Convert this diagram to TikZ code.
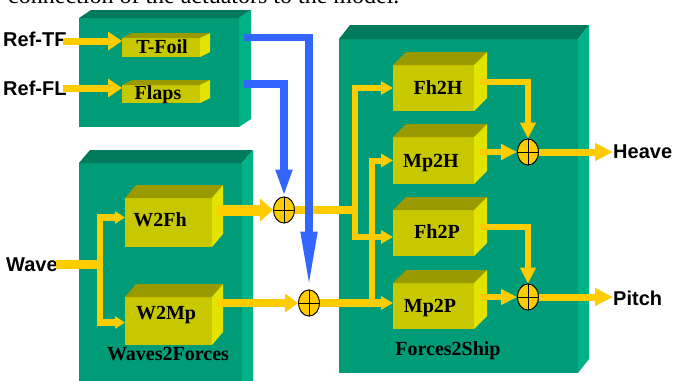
\documentclass[tikz,border=0pt]{standalone}
\usepackage{fontspec}
\setmainfont{Liberation Serif}
\newfontfamily\arialf{Liberation Sans}
\usetikzlibrary{arrows.meta,calc,shapes.geometric}
\definecolor{gfront}{HTML}{009B77}
\definecolor{gtop}{HTML}{007A5C}
\definecolor{gside}{HTML}{00B386}
\definecolor{yfront}{HTML}{C8C800}
\definecolor{ytop}{HTML}{999900}
\definecolor{yside}{HTML}{E3E300}
\definecolor{ycol}{HTML}{FFCC00}
\definecolor{bcol}{HTML}{3366FF}
\newcommand\cubefaces[5]{%
  \fill[#4] (#1.north west) -- ++(#2,-#3) -- ($(#1.north east)+(#2,-#3)$) -- (#1.north east) -- cycle;
  \fill[#5] (#1.north east) -- ++(#2,-#3) -- ($(#1.south east)+(#2,-#3)$) -- (#1.south east) -- cycle;}
\newcommand\sumcross[1]{\draw[line width=0.8pt] (#1.north) -- (#1.south) (#1.west) -- (#1.east);}
\begin{document}
\begin{tikzpicture}[x=1pt,y=-1pt,
  frontface/.style={inner sep=0, outer sep=0, anchor=north west, draw=none},
  bigfront/.style={frontface, fill=gfront},
  blockfront/.style={frontface, fill=yfront},
  yl/.style={draw=ycol, line width=6pt},
  ya/.style={yl, line width=7pt, -{Triangle[length=14pt,width=18pt]}},
  yb/.style={yl, line width=6pt, -{Triangle[length=12pt,width=13pt]}},
  yc/.style={yl, line width=6pt, -{Triangle[length=16pt,width=15pt]}},
  bl/.style={draw=bcol, line width=7.5pt},
  sumnode/.style={ellipse, draw=black, line width=0.8pt, fill=ycol, minimum width=21pt, minimum height=26pt, inner sep=0},
  sans/.style={font=\arialf\bfseries\fontsize{20}{24}\selectfont, inner sep=0, anchor=base west},
  blab/.style={font=\bfseries\fontsize{20}{24}\selectfont, inner sep=0, anchor=base}]
\clip (0,0) rectangle (674,380);
\useasboundingbox (0,0) rectangle (674,380);

% caption line (cut at top)
\node[anchor=base west, inner sep=0, font=\fontsize{24}{28}\selectfont] (cap) at (8,4) {connection of the actuators to the model.};

% big boxes
\node[bigfront, minimum width=160pt, minimum height=109pt] (act) at (79,18) {};
\cubefaces{act}{12}{8}{gtop}{gside}
\node[bigfront, minimum width=163pt, minimum height=240pt] (w2f) at (79,163) {};
\cubefaces{w2f}{11}{13}{gtop}{gside}
\node[bigfront, minimum width=239pt, minimum height=334pt] (f2s) at (339,39) {};
\cubefaces{f2s}{11}{14}{gtop}{gside}

% blocks
\node[blockfront, minimum width=78pt, minimum height=19pt] (tfoil) at (122,38) {};
\cubefaces{tfoil}{10}{5}{ytop}{yside}
\node[blockfront, minimum width=78pt, minimum height=18pt] (flaps) at (122,85) {};
\cubefaces{flaps}{10}{5}{ytop}{yside}
\node[blockfront, minimum width=87pt, minimum height=49pt] (w2fh) at (125,198) {};
\cubefaces{w2fh}{11}{13}{ytop}{yside}
\node[blockfront, minimum width=87pt, minimum height=48pt] (w2mp) at (125,297) {};
\cubefaces{w2mp}{11}{13}{ytop}{yside}
\node[blockfront, minimum width=81pt, minimum height=46pt] (fh2h) at (393,65) {};
\cubefaces{fh2h}{13}{13}{ytop}{yside}
\node[blockfront, minimum width=81pt, minimum height=47pt] (mp2h) at (393,137) {};
\cubefaces{mp2h}{13}{13}{ytop}{yside}
\node[blockfront, minimum width=81pt, minimum height=46pt] (fh2p) at (393,210) {};
\cubefaces{fh2p}{13}{13}{ytop}{yside}
\node[blockfront, minimum width=81pt, minimum height=46pt] (mp2p) at (393,283) {};
\cubefaces{mp2p}{13}{13}{ytop}{yside}

% block labels
\node[blab] (ltfoil) at (162,53) {T-Foil};
\node[blab] (lflaps) at (158,99) {Flaps};
\node[blab] (lw2fh) at (160,226) {W2Fh};
\node[blab] (lw2mp) at (166,319) {W2Mp};
\node[blab] (lw2f) at (168,360) {Waves2Forces};
\node[blab] (lfh2h) at (438,94) {Fh2H};
\node[blab] (lmp2h) at (431,167) {Mp2H};
\node[blab] (lfh2p) at (437,238) {Fh2P};
\node[blab] (lmp2p) at (430,312) {Mp2P};
\node[blab] (lf2s) at (448,355) {Forces2Ship};

% outer labels
\node[sans] (reftf) at (3,46) {Ref-TF};
\node[sans] (reffl) at (3,95) {Ref-FL};
\node[sans] (wave) at (6,271) {Wave};
\node[sans] (heave) at (613,158) {Heave};
\node[sans] (pitch) at (613,305) {Pitch};

% sum nodes
\node[sumnode] (s1) at (284,210) {};
\node[sumnode] (s2) at (309,303) {};
\node[sumnode] (s3) at (528,152) {};
\node[sumnode] (s4) at (528,297) {};

% yellow connectors
\coordinate (tfin) at ($(tfoil.west)+(0,-6.5)$);
\coordinate (flin) at ($(flaps.west)+(0,-6)$);
\draw[ya] ($(reftf.east |- tfin)+(-4,0)$) -- (tfin);
\draw[ya] ($(reffl.east |- flin)+(-4,0)$) -- (flin);

\coordinate (wj) at (100,264);
\draw[yl, line width=9pt] ($(wave.east |- wj)+(-2,0)$) -- (wj);
\draw[yl, line width=6.5pt, -{Triangle[length=10pt,width=12pt]}] (wj) |- ($(w2fh.west)+(0,-5)$);
\draw[yl, line width=6.5pt, -{Triangle[length=10pt,width=12pt]}] (wj) |- ($(w2mp.west)+(0,1.5)$);

\draw[yl, line width=11pt, -{Triangle[length=13pt,width=22pt]}] ($(w2fh.east |- s1.west)+(5,0)$) -- (s1.west);
\draw[yl, line width=7.5pt, -{Triangle[length=13pt,width=18pt]}] ($(w2mp.east |- s2.west)+(5,0)$) -- (s2.west);

\coordinate (j1) at (355,210);
\coordinate (j2) at (372,303);
\draw[yl, line width=8pt] (s1.east) -- (j1);
\draw[yb] (j1) |- (fh2h.west);
\draw[yb] (j1) |- ($(fh2p.west)+(0,4)$);
\draw[yb, line width=8pt] (s2.east) -- (mp2p.west |- s2.east);
\draw[yb] (j2) |- (mp2h.west);

\draw[yc] ($(fh2h.east)+(6,-6)$) -| (s3.north);
\draw[yc] ($(mp2h.east |- s3.west)+(6,0)$) -- (s3.west);
\draw[yc] ($(fh2p.east)+(6,-6)$) -| (s4.north);
\draw[yc] ($(mp2p.east |- s4.west)+(6,0)$) -- (s4.west);
\draw[ya, -{Triangle[length=18pt,width=17pt]}] (s3.east) -- (heave.west |- s3.east);
\draw[ya, -{Triangle[length=18pt,width=17pt]}] (s4.east) -- (pitch.west |- s4.east);

% blue connectors
\coordinate (bt) at (244,37.5);
\coordinate (bf) at (244,84);
\draw[bl, -{Triangle[length=58pt,width=15pt]}] (bt) -| (s2.north);
\draw[bl, -{Triangle[length=27pt,width=15pt]}] (bf) -| (s1.north);

% redraw sum nodes on top
\node[sumnode] at (s1) {};
\node[sumnode] at (s2) {};
\node[sumnode] at (s3) {};
\node[sumnode] at (s4) {};
\sumcross{s1}
\sumcross{s2}
\sumcross{s3}
\sumcross{s4}
\end{tikzpicture}
\end{document}
